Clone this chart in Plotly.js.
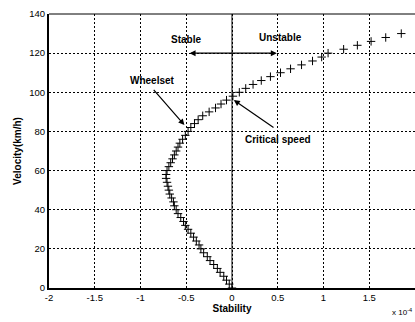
<!DOCTYPE html>
<html>
<head>
<meta charset="utf-8">
<script src="https://cdn.plot.ly/plotly-3.0.1.min.js"></script>
<style>html,body{margin:0;padding:0;background:#fff;}#chart{width:415px;height:322px;}</style>
</head>
<body>
<div id="chart"></div>
<script>
// Velocity (km/h) samples and the stability value read at each one (x 10^n)
const velocity = [0,2,4,6,8,10,12,14,16,18,20,22,24,26,28,30,32,34,36,38,40,42,44,46,48,50,52,54,56,58,60,62,64,66,68,70,72,74,76,78,80,82,84,86,88,90,92,94,96,98,100,102,104,106,108,110,112,114,116,118,120,122,124,126,128,130];
const stability = [0.00,-0.03,-0.06,-0.09,-0.13,-0.16,-0.20,-0.24,-0.27,-0.31,-0.34,-0.36,-0.39,-0.42,-0.45,-0.48,-0.51,-0.53,-0.56,-0.59,-0.61,-0.63,-0.64,-0.66,-0.68,-0.69,-0.70,-0.71,-0.72,-0.72,-0.71,-0.69,-0.67,-0.65,-0.63,-0.61,-0.59,-0.57,-0.54,-0.51,-0.48,-0.45,-0.41,-0.37,-0.32,-0.25,-0.18,-0.12,-0.06,0.01,0.08,0.15,0.23,0.32,0.42,0.53,0.64,0.76,0.88,0.98,1.05,1.22,1.37,1.52,1.68,1.85];
const xTicks = [-2,-1.5,-1,-0.5,0,0.5,1,1.5,2];
const xTickText = ['-2','-1.5','-1','-0.5','0','0.5','1','1.5','2'];
const yTicks = [0,20,40,60,80,100,120,140];

const F = 'Arial, "Liberation Sans", sans-serif';

const trace = {
  x: stability, y: velocity, type: 'scatter', mode: 'markers',
  marker: {symbol: 'cross-thin-open', size: 6, color: '#000', line: {color: '#000', width: 1}},
  hoverinfo: 'skip', showlegend: false
};

const layout = {
  width: 415, height: 322,
  margin: {l: 49, r: 0, t: 14, b: 34},
  paper_bgcolor: '#fff', plot_bgcolor: '#fff',
  showlegend: false,
  font: {family: F, size: 10, color: '#000'},
  xaxis: {
    range: [-2, 2], tickvals: xTicks, ticktext: xTickText,
    showgrid: true, gridcolor: '#000', gridwidth: 1, griddash: '2px,2px',
    zeroline: false, showline: true, linecolor: '#000', linewidth: 2,
    ticks: '', tickfont: {family: F, size: 9.5, color: '#000'},
    title: {text: '<b>Stability</b>', font: {family: F, size: 10, color: '#000'}, standoff: 2},
    automargin: false, fixedrange: true
  },
  yaxis: {
    range: [0, 140], tickvals: yTicks,
    showgrid: true, gridcolor: '#000', gridwidth: 1, griddash: '2px,2px',
    zeroline: false, showline: true, linecolor: '#000', linewidth: 2,
    ticks: '', tickfont: {family: F, size: 9.5, color: '#000'},
    title: {text: '<b>Velocity(km/h)</b>', font: {family: F, size: 10, color: '#000'}, standoff: 6},
    automargin: false, fixedrange: true
  },
  shapes: [
    {type: 'line', xref: 'x', yref: 'paper', x0: 0, x1: 0, y0: 0, y1: 1, line: {color: '#000', width: 1}},
    {type: 'line', xref: 'paper', yref: 'paper', x0: 0, x1: 1, y0: 1, y1: 1, line: {color: '#000', width: 1}}
  ],
  annotations: [
    {x: -0.5, y: 127, xref: 'x', yref: 'y', text: '<b>Stable</b>', showarrow: false, font: {family: F, size: 10, color: '#000'}},
    {x: 0.53, y: 128, xref: 'x', yref: 'y', text: '<b>Unstable</b>', showarrow: false, font: {family: F, size: 10, color: '#000'}},
    {x: 0.49, y: 120, ax: -0.48, ay: 120, xref: 'x', yref: 'y', axref: 'x', ayref: 'y', text: '', showarrow: true,
     arrowhead: 2, startarrowhead: 2, arrowside: 'end+start', arrowsize: 1, arrowwidth: 1.2, arrowcolor: '#000'},
    {x: -0.87, y: 106, xref: 'x', yref: 'y', text: '<b>Wheelset</b>', showarrow: false, font: {family: F, size: 10, color: '#000'}},
    {x: -0.52, y: 83.3, ax: -0.87, ay: 102, xref: 'x', yref: 'y', axref: 'x', ayref: 'y', text: '', showarrow: true,
     arrowhead: 2, arrowsize: 1, arrowwidth: 1.2, arrowcolor: '#000'},
    {x: 0.5, y: 76, xref: 'x', yref: 'y', text: '<b>Critical speed</b>', showarrow: false, font: {family: F, size: 10, color: '#000'}},
    {x: 0.02, y: 96, ax: 0.47, ay: 81.5, xref: 'x', yref: 'y', axref: 'x', ayref: 'y', text: '', showarrow: true,
     arrowhead: 2, arrowsize: 1, arrowwidth: 1.2, arrowcolor: '#000'},
    {x: 1, y: 0, xref: 'paper', yref: 'paper', xanchor: 'right', yanchor: 'top', xshift: -1, yshift: -17,
     text: 'x 10<sup>-4</sup>', showarrow: false, font: {family: F, size: 8, color: '#000'}}
  ]
};

Plotly.newPlot('chart', [trace], layout, {displayModeBar: false, staticPlot: true});
</script>
</body>
</html>
